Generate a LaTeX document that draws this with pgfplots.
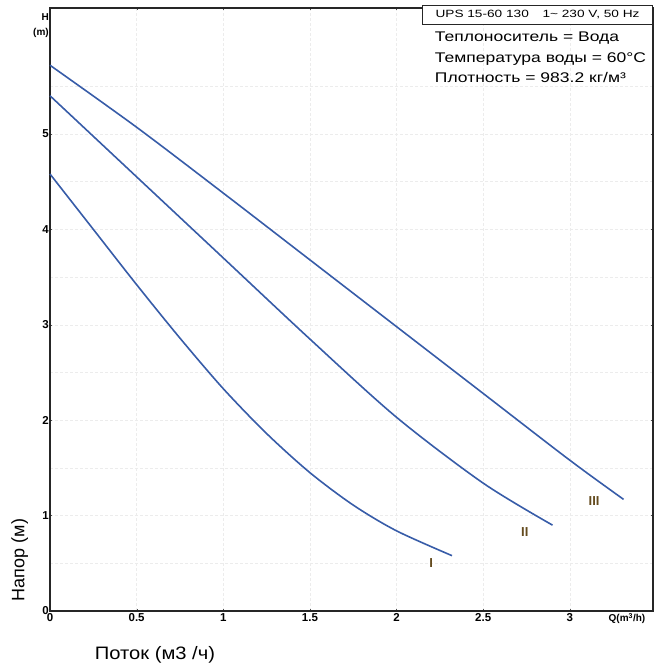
\documentclass[border=0pt]{standalone}
\usepackage{fontspec}
\setmainfont{Liberation Sans}
\usepackage{graphicx}
\usepackage{pgfplots}
\pgfplotsset{compat=1.18}
\definecolor{curveblue}{RGB}{55,92,168}
\definecolor{lblbrown}{RGB}{100,75,30}

\begin{document}
\begin{tikzpicture}
\useasboundingbox (0,0) rectangle (666pt,671pt);
\begin{axis}[
    at={(50pt,60pt)}, anchor=south west,
    scale only axis, width=603pt, height=603pt,
    xmin=0, xmax=3.48, ymin=0, ymax=6.32,
    xtick={0,0.5,1,1.5,2,2.5,3},
    ytick={0,1,2,3,4,5},
    minor ytick={0.5,1.5,2.5,3.5,4.5,5.5},
    grid=both,
    major grid style={gray!15, densely dashed},
    minor grid style={gray!15, densely dashed},
    axis line style={black!85, line width=1.1pt},
    major tick length=2pt, minor tick length=0pt,
    tick style={black!70},
    /pgf/number format/assume math mode=true,
    xticklabel style={font=\bfseries\fontsize{11.5}{13}\selectfont, inner sep=2pt},
    yticklabel style={font=\bfseries\fontsize{11.5}{13}\selectfont, inner sep=1pt},
    clip=false,
]
% curve I
\addplot[curveblue, line width=1.6pt, smooth] coordinates {
    (0,4.58) (0.25,4.00) (0.5,3.42) (0.75,2.86) (1.0,2.33) (1.25,1.86)
    (1.5,1.45) (1.75,1.11) (2.0,0.84) (2.32,0.58)
};
% curve II
\addplot[curveblue, line width=1.6pt, smooth] coordinates {
    (0,5.40) (0.5,4.55) (1.0,3.70) (1.5,2.85) (2.0,2.03) (2.5,1.34) (2.9,0.90)
};
% curve III
\addplot[curveblue, line width=1.6pt, smooth] coordinates {
    (0,5.72) (0.5,5.07) (1.0,4.38) (1.5,3.68) (2.0,2.98) (2.5,2.28)
    (3.0,1.58) (3.31,1.17)
};

\node[lblbrown, font=\bfseries\fontsize{13}{15}\selectfont] at (axis cs:2.20,0.50) {I};
\node[lblbrown, font=\bfseries\fontsize{13}{15}\selectfont] at (axis cs:2.74,0.83) {II};
\node[lblbrown, font=\bfseries\fontsize{13}{15}\selectfont] at (axis cs:3.14,1.15) {III};

\node[anchor=east, font=\bfseries\fontsize{10}{11}\selectfont, inner sep=1pt] at (axis cs:0,6.22) {H};
\node[anchor=east, font=\bfseries\fontsize{10}{11}\selectfont, inner sep=1pt] at (axis cs:0,6.06) {(m)};
\node[anchor=north, font=\bfseries\fontsize{10}{11}\selectfont, inner sep=2pt] at (axis cs:3.33,0) {Q(m\textsuperscript{3}/h)};

\node[draw=black!85, line width=0.9pt, anchor=north east, minimum width=230pt,
      minimum height=19pt, inner sep=0pt, fill=white,
      font=\fontsize{10.5}{11}\selectfont] at (rel axis cs:1,1.005)
      {\scalebox{1.3}[1]{UPS 15-60 130\quad 1\textasciitilde{} 230 V, 50 Hz}};
\node[anchor=north west, align=left, inner sep=0pt,
      font=\fontsize{14}{20.5}\selectfont] at (rel axis cs:0.638,0.960)
      {\scalebox{1.25}[1]{Теплоноситель = Вода}\\
       \scalebox{1.25}[1]{Температура воды = 60°C}\\
       \scalebox{1.25}[1]{Плотность = 983.2 кг/м³}};

\node[font=\fontsize{18}{20}\selectfont] at (axis cs:0.606,-0.46) {\scalebox{1.12}[1]{Поток (м3 /ч)}};
\node[rotate=90, font=\fontsize{18}{20}\selectfont] at (axis cs:-0.175,0.535) {Напор (м)};
\end{axis}
\end{tikzpicture}
\end{document}
